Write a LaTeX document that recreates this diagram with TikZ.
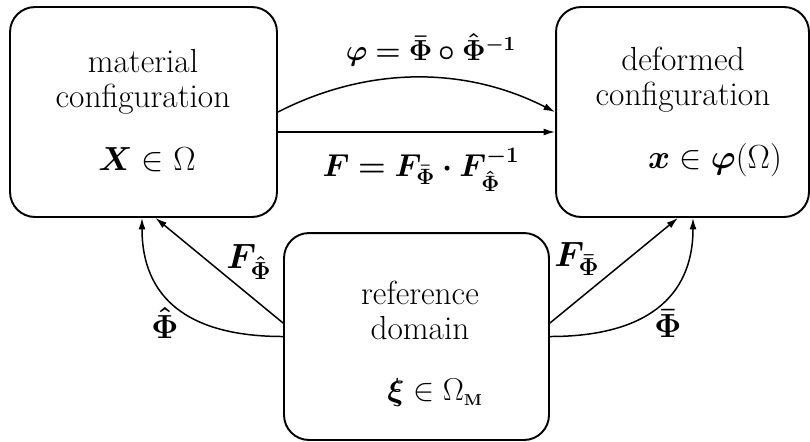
\RequirePackage{fix-cm}
\documentclass[tikz,border=0pt]{standalone}
\usepackage{amsmath}
\usepackage{bm}
\usepackage{tikz}
\usetikzlibrary{arrows.meta,calc}

\begin{document}
\begin{tikzpicture}[x=0.02cm,y=-0.02cm,
    box/.style={draw,line width=1.1pt,rounded corners=0.5cm},
    txt/.style={align=center,font=\fontsize{19}{20}\selectfont,inner sep=0pt},
    lbl/.style={inner sep=0pt,font=\fontsize{18}{20}\selectfont},
    arrow/.style={-{Latex[length=2.3mm,width=1.4mm]},line width=0.85pt}]
  \useasboundingbox (0,0) rectangle (810,441);
  % the three domains
  \node[box,minimum width=5.34cm,minimum height=4.2cm] (mat) at (143.5,112) {};
  \node[box,minimum width=5.06cm,minimum height=4.2cm] (def) at (682.5,112) {};
  \node[box,minimum width=5.3cm,minimum height=4.14cm] (ref) at (416.5,336.5) {};
  \node[txt] (mattext) at (143,82) {material\\configuration};
  \node[lbl,font=\fontsize{19}{20}\selectfont] (matpt) at (147,160) {$\bm{X}\in\Omega$};
  \node[txt] (deftext) at (683,80) {deformed\\configuration};
  \node[lbl,font=\fontsize{19}{20}\selectfont] (defpt) at (715,160) {$\bm{x}\in\bm{\varphi}(\Omega)$};
  \node[txt] (reftext) at (420,310) {reference\\domain};
  \node[lbl] (refpt) at (435,393) {$\bm{\xi}\in\Omega_{\scriptscriptstyle\mathbf{M}}$};
  % maps between them
  \draw[arrow] (mat.east) .. controls +(90,-46) and +(-90,-46) .. (def.west);
  \draw[arrow] ($(mat.east)+(0,20)$) -- ($(def.west)+(0,20)$);
  \draw[arrow] ($(ref.west)+(0,-13.5)$) -- ($(mat.south)+(12,0)$);
  \draw[arrow] (ref.west) .. controls +(-95,0) and +(0,80) .. ($(mat.south)+(-1.5,0)$);
  \draw[arrow] ($(ref.east)+(0,-13.5)$) -- ($(def.south)+(-4.5,0)$);
  \draw[arrow] (ref.east) .. controls +(95,0) and +(0,80) .. ($(def.south)+(10.5,0)$);
  \node[lbl,font=\fontsize{16.5}{20}\selectfont] (phi) at (431,50) {$\bm{\varphi=\bar{\Phi}\circ\hat{\Phi}^{-1}}$};
  \node[lbl] (grad) at (421,170) {$\bm{F=F_{\bar{\Phi}}\cdot F^{-1}_{\hat{\Phi}}}$};
  \node[lbl,font=\fontsize{20}{20}\selectfont] (gradhat) at (249,262) {$\bm{F_{\hat{\Phi}}}$};
  \node[lbl,font=\fontsize{19}{20}\selectfont] (maphat) at (165,323) {$\bm{\hat{\Phi}}$};
  \node[lbl,font=\fontsize{20}{20}\selectfont] (gradbar) at (577,259) {$\bm{F_{\bar{\Phi}}}$};
  \node[lbl,font=\fontsize{19}{20}\selectfont] (mapbar) at (668,324) {$\bm{\bar{\Phi}}$};
\end{tikzpicture}
\end{document}
